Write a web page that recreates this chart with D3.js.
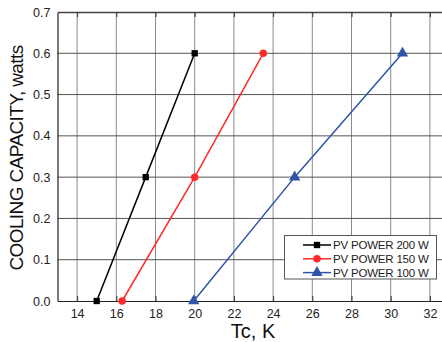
<!DOCTYPE html>
<html>
<head>
<meta charset="utf-8">
<script src="https://cdn.jsdelivr.net/npm/d3@7"></script>
<style>
  body { margin: 0; background: #fff; }
  svg text { font-family: "Liberation Sans", Arial, Helvetica, sans-serif !important; }
</style>
</head>
<body>
<svg id="chart" width="442" height="342"></svg>
<script>
// values
const seriesNames = ["PV POWER 200 W", "PV POWER 150 W", "PV POWER 100 W"];
const tc200 = [15.0, 17.5, 20.0];
const tc150 = [16.3, 20.0, 23.5];
const tc100 = [19.95, 25.1, 30.6];
const capacity = [0.0, 0.3, 0.6];
const xTicks = [14, 16, 18, 20, 22, 24, 26, 28, 30, 32];
const yTicks = [0.0, 0.1, 0.2, 0.3, 0.4, 0.5, 0.6, 0.7];

const colors = ["#000000", "#ff2a2a", "#2f55a8"];
const symbols = [d3.symbolSquare, d3.symbolCircle, d3.symbolTriangle];
const symSize = [40, 44, 56];

const series = [tc200, tc150, tc100].map((xs, i) => ({
  name: seriesNames[i],
  pts: xs.map((x, j) => [x, capacity[j]])
}));

const svg = d3.select("#chart");
const x = d3.scaleLinear().domain([13, 33]).range([57.5, 449.5]);
const y = d3.scaleLinear().domain([0, 0.7]).range([301, 12]);

// grid
const grid = svg.append("g");
grid.selectAll(".vg").data(xTicks).join("line")
  .attr("x1", d => x(d)).attr("x2", d => x(d))
  .attr("y1", y(0.7)).attr("y2", y(0))
  .attr("stroke", "#8a8a8a").attr("stroke-width", 1);
grid.selectAll(".hg").data(yTicks.slice(1, -1)).join("line")
  .attr("x1", x(13)).attr("x2", 442)
  .attr("y1", d => y(d)).attr("y2", d => y(d))
  .attr("stroke", "#555").attr("stroke-width", 1);

// axes with inner ticks
svg.append("g").attr("transform", `translate(0,${y(0)})`)
  .call(d3.axisBottom(x).tickValues(xTicks).tickSizeInner(-5).tickSizeOuter(0).tickPadding(8).tickFormat(d3.format("d")))
  .call(g => g.select(".domain").attr("stroke", "#222").attr("stroke-width", 1.2))
  .call(g => g.selectAll("line").attr("stroke", "#333"))
  .call(g => g.selectAll("text").attr("font-size", 12.5).attr("fill", "#222"));
svg.append("g").attr("transform", `translate(0,${y(0.7)})`)
  .call(d3.axisTop(x).tickValues(xTicks).tickSizeInner(-5).tickSizeOuter(0).tickFormat(""))
  .call(g => g.select(".domain").attr("stroke", "#444").attr("stroke-width", 1.5))
  .call(g => g.selectAll("line").attr("stroke", "#333"));
svg.append("g").attr("transform", `translate(${x(13)},0)`)
  .call(d3.axisLeft(y).tickValues(yTicks).tickSizeInner(0).tickSizeOuter(0).tickPadding(7).tickFormat(d3.format(".1f")))
  .call(g => g.select(".domain").attr("stroke", "#222").attr("stroke-width", 1.2))
  .call(g => g.selectAll("text").attr("font-size", 12.5).attr("fill", "#222"));

// lines and markers
const line = d3.line().x(d => x(d[0])).y(d => y(d[1]));
series.forEach((s, i) => {
  svg.append("path").attr("d", line(s.pts))
    .attr("fill", "none").attr("stroke", colors[i]).attr("stroke-width", 1.5);
  svg.selectAll(".m" + i).data(s.pts).join("path")
    .attr("transform", d => `translate(${x(d[0])},${y(d[1])})`)
    .attr("d", d3.symbol(symbols[i], symSize[i]))
    .attr("fill", colors[i]);
});

// legend
const lg = svg.append("g");
lg.append("rect").attr("x", 284.5).attr("y", 235.5).attr("width", 152).attr("height", 43.5)
  .attr("fill", "#fff").attr("stroke", "#555").attr("stroke-width", 1);
series.forEach((s, i) => {
  const yy = 245 + i * 13.8;
  lg.append("line").attr("x1", 303).attr("x2", 331).attr("y1", yy).attr("y2", yy)
    .attr("stroke", colors[i]).attr("stroke-width", 1.5);
  lg.append("path").attr("transform", `translate(317,${yy})`)
    .attr("d", d3.symbol(symbols[i], symSize[i]))
    .attr("fill", colors[i]);
  lg.append("text").attr("x", 333).attr("y", yy).attr("dy", "0.36em")
    .attr("font-size", 11.5).attr("letter-spacing", -0.2).attr("fill", "#222").text(s.name);
});

// axis titles
svg.append("text").attr("x", 253).attr("y", 338).attr("text-anchor", "middle")
  .attr("font-size", 20).attr("fill", "#111").text("Tc, K");
svg.append("text").attr("transform", "translate(23,158) rotate(-90)")
  .attr("text-anchor", "middle").attr("font-size", 19).attr("letter-spacing", -0.6).attr("fill", "#111")
  .text("COOLING CAPACITY, watts");
</script>
</body>
</html>
